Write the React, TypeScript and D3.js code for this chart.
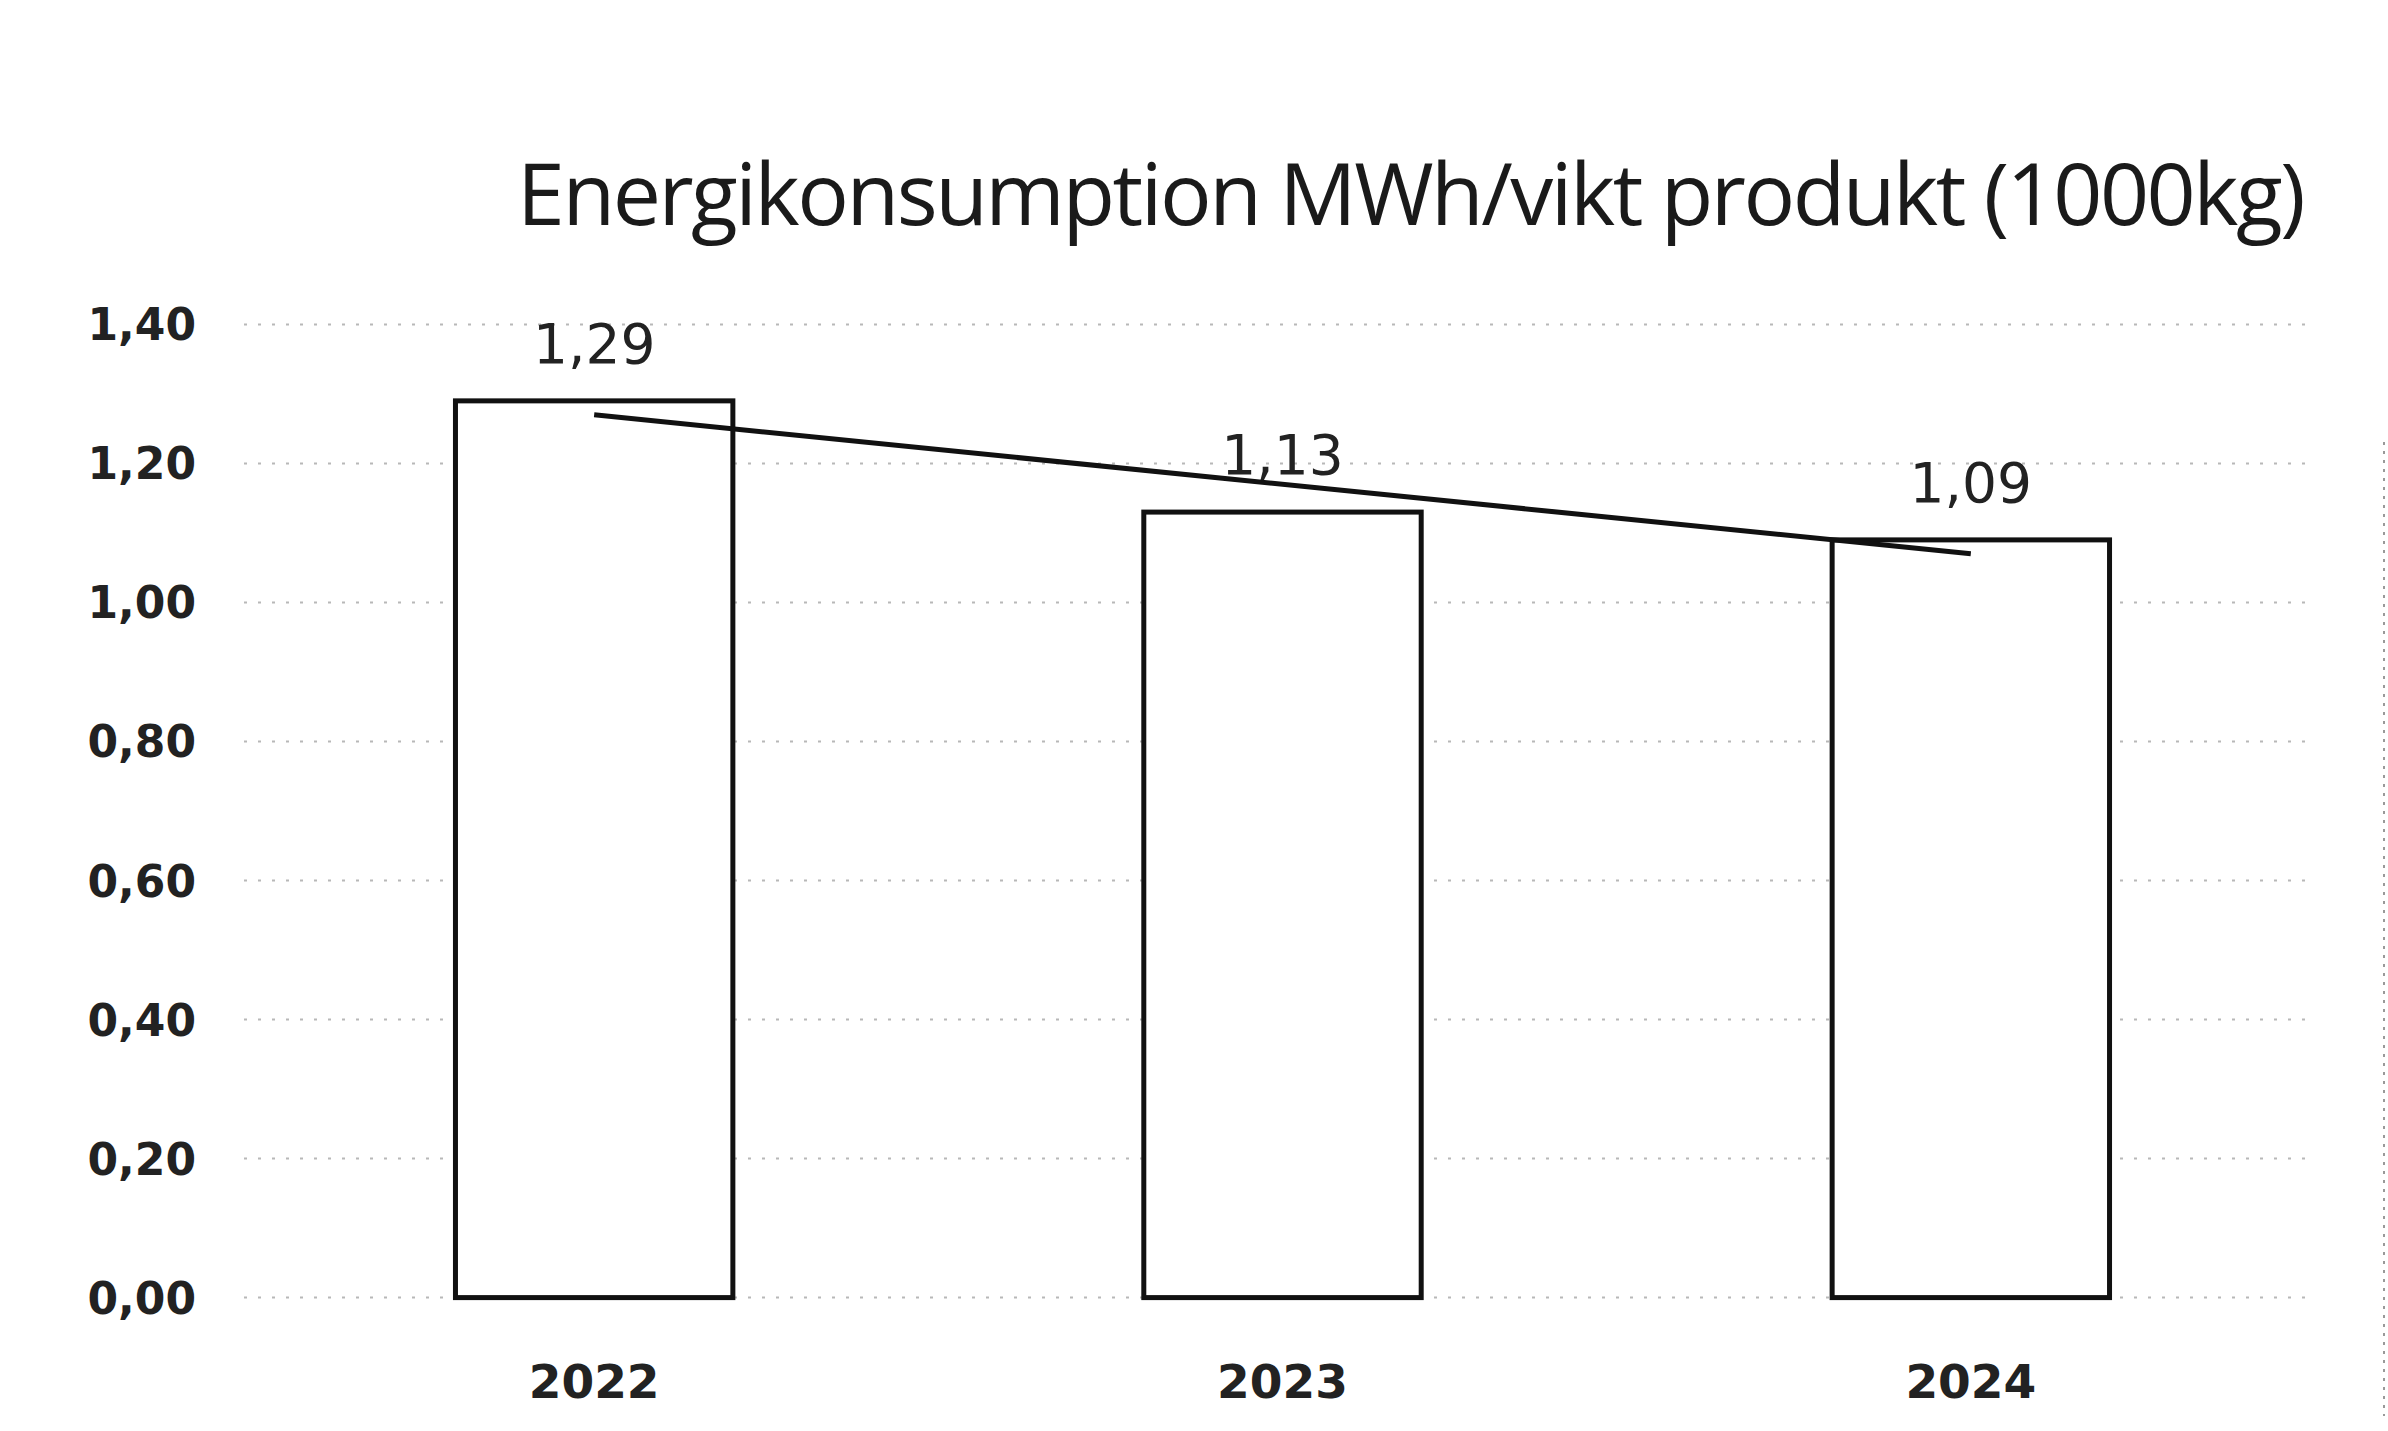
import React from "react";
import * as d3 from "d3";

const categories: string[] = ["2022", "2023", "2024"];
const values: number[] = [1.29, 1.13, 1.09];
const yTicks: number[] = [0, 0.2, 0.4, 0.6, 0.8, 1.0, 1.2, 1.4];
const title = "Energikonsumption MWh/vikt produkt (1000kg)";

const W = 2388;
const H = 1431;

const fmt = (v: number) => v.toFixed(2).replace(".", ",");

export default function App() {
  const x = d3.scaleBand<string>().domain(categories).range([250, 2315]).paddingInner(0.597).paddingOuter(0.2985);
  const y = d3.scaleLinear().domain([0, 1.4]).range([1297.6, 324.4]);

  // linear trendline (least squares) through the bar values
  const n = values.length;
  const xs = values.map((_, i) => i + 1);
  const mx = d3.mean(xs) as number;
  const my = d3.mean(values) as number;
  const slope =
    d3.sum(xs.map((xi, i) => (xi - mx) * (values[i] - my))) /
    d3.sum(xs.map((xi) => (xi - mx) * (xi - mx)));
  const icpt = my - slope * mx;
  const trendPts: [number, number][] = xs.map((xi, i) => [
    (x(categories[i]) as number) + x.bandwidth() / 2,
    y(icpt + slope * xi),
  ]);
  const trend = d3.line()([trendPts[0], trendPts[n - 1]]) as string;

  return (
    <svg
      width={W}
      height={H}
      style={{ position: "absolute", left: 0, top: 0, display: "block", background: "#fff" }}
    >
      <rect x={0} y={0} width={W} height={H} fill="#fff" />
      <text
        x={2303}
        y={225}
        textAnchor="end"
        fontFamily="'Open Sans', 'Noto Sans', sans-serif"
        fontSize={86}
        letterSpacing={-2.5}
        fill="#1a1a1a"
      >
        {title}
      </text>

      {yTicks.map((t) => (
        <g key={t}>
          <line
            x1={244}
            x2={2315}
            y1={y(t)}
            y2={y(t)}
            stroke="#b8b8b8"
            strokeWidth={2}
            strokeDasharray="3 11"
          />
          <text
            x={196}
            y={y(t) + 16}
            textAnchor="end"
            fontFamily="'DejaVu Sans', sans-serif"
            fontWeight="bold"
            fontSize={44}
            fill="#222"
          >
            {fmt(t)}
          </text>
        </g>
      ))}

      {categories.map((c, i) => (
        <g key={c}>
          <rect
            x={x(c) as number}
            y={y(values[i])}
            width={x.bandwidth()}
            height={y(0) - y(values[i])}
            fill="#fff"
            stroke="#111"
            strokeWidth={5}
          />
          <text
            x={(x(c) as number) + x.bandwidth() / 2}
            y={y(values[i]) - 38}
            textAnchor="middle"
            fontFamily="'DejaVu Sans', sans-serif"
            fontSize={55}
            fill="#222"
          >
            {fmt(values[i])}
          </text>
          <text
            x={(x(c) as number) + x.bandwidth() / 2}
            y={1398}
            textAnchor="middle"
            fontFamily="'DejaVu Sans', sans-serif"
            fontWeight="bold"
            fontSize={47}
            fill="#222"
          >
            {c}
          </text>
        </g>
      ))}

      <path d={trend} fill="none" stroke="#111" strokeWidth={5} />

      <line x1={2384} x2={2384} y1={442} y2={1416} stroke="#999" strokeWidth={2} strokeDasharray="3 6" />
    </svg>
  );
}
